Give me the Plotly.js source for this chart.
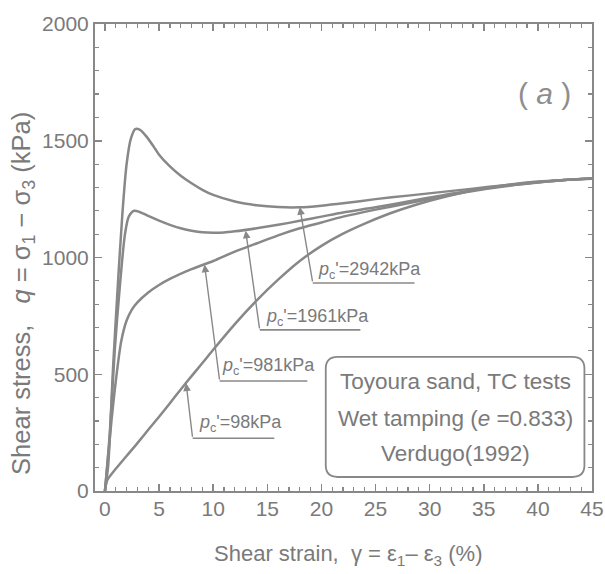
<!DOCTYPE html>
<html>
<head>
<meta charset="utf-8">
<script src="https://cdn.plot.ly/plotly-3.0.1.min.js"></script>
<style>html,body{margin:0;padding:0;background:#fff}</style>
</head>
<body>
<div id="chart" style="width:605px;height:574px"></div>
<script>
// ---- data ----
const seriesNames = ["98kPa", "981kPa", "1961kPa", "2942kPa"];

const strain98 = [0,0.2,1,2,3,4,5,6,7,8,9,10,12,14,16,18,20,22,24,26,28,30,32,34,36,38,40,42,45];
const q98      = [0,45,95,150,205,262,318,376,435,492,548,605,715,815,905,985,1050,1102,1145,1183,1215,1243,1267,1287,1303,1316,1325,1331,1337];

const strain981 = [0,0.3,0.6,1,1.5,2,2.5,3,4,5,6,8,10,12,14,16,18,20,22,25,28,31,34,37,40,42,45];
const q981      = [0,150,300,470,640,730,778,808,850,882,908,950,985,1025,1060,1095,1125,1150,1175,1205,1232,1260,1285,1305,1321,1330,1338];

const strain1961 = [0,0.45,0.9,1.4,1.85,2.2,2.7,3.2,4,5,6,7,8,9,10,11,12,14,16,18,20,22,25,28,31,34,37,40,42,45];
const q1961      = [0,250,600,890,1100,1175,1200,1195,1178,1158,1140,1125,1115,1108,1106,1107,1112,1125,1140,1157,1175,1193,1215,1240,1265,1288,1307,1322,1330,1338];

const strain2942 = [0,0.3,0.75,1.2,1.6,2,2.4,2.8,3.2,3.8,4.5,5,6,7,8,9,10,12,14,16,18,20,22,25,28,31,34,37,40,42,45];
const q2942      = [0,110,530,890,1180,1400,1510,1550,1548,1520,1475,1440,1390,1350,1318,1290,1268,1240,1224,1216,1215,1222,1232,1250,1265,1280,1295,1310,1322,1330,1338];

const xTicks = [0,5,10,15,20,25,30,35,40,45];
const yTicks = [0,500,1000,1500,2000];

const pcLabels = ["<i>p</i><sub>c</sub>'=98kPa", "<i>p</i><sub>c</sub>'=981kPa",
                  "<i>p</i><sub>c</sub>'=1961kPa", "<i>p</i><sub>c</sub>'=2942kPa"];
const boxLines = ["Toyoura sand, TC tests", "Wet tamping (<i>e</i> =0.833)", "Verdugo(1992)"];

// ---- styling ----
const GRAY = "#888888";
const TXT = "#7a7a7a";
const FONT = "'Liberation Sans',Arial,sans-serif";

const xs = [strain98, strain981, strain1961, strain2942];
const ys = [q98, q981, q1961, q2942];
const traces = xs.map((x, i) => ({
  x: x, y: ys[i], name: seriesNames[i], type: "scatter", mode: "lines",
  line: {color: GRAY, width: 2.5, shape: "spline", smoothing: 0.8},
  hoverinfo: "skip", showlegend: false
}));

// label leaders: [head x, head y, tail x, tail y, underline end x, text x, text y]
const leaders = [
  [7.5, 461, 8.1, 226, 15.65, 8.5, 290],
  [9.2, 970, 10.6, 471, 18.7, 10.6, 533],
  [13.0, 1115, 14.3, 690, 23.6, 14.7, 742],
  [18.0, 1216, 19.2, 891, 28.6, 19.5, 943]
];

const annotations = [];
const shapes = [];
leaders.forEach((L, i) => {
  annotations.push({
    x: L[0], y: L[1], ax: L[2], ay: L[3], xref: "x", yref: "y", axref: "x", ayref: "y",
    text: "", showarrow: true, arrowhead: 2, arrowsize: 1.1, arrowwidth: 1.4,
    arrowcolor: GRAY, standoff: 0
  });
  shapes.push({type: "line", xref: "x", yref: "y", x0: L[2], y0: L[3], x1: L[4], y1: L[3],
    line: {color: GRAY, width: 1.6}});
  annotations.push({
    x: L[5], y: L[6], xref: "x", yref: "y", xanchor: "left", yanchor: "middle",
    text: pcLabels[i], showarrow: false, font: {family: FONT, size: 18, color: TXT}
  });
});

// rounded legend box
const bx0 = 20.4, bx1 = 44.3, by0 = 60, by1 = 574, rx = 1.1, ry = 50;
shapes.push({
  type: "path", xref: "x", yref: "y",
  path: `M ${bx0+rx},${by0} L ${bx1-rx},${by0} Q ${bx1},${by0} ${bx1},${by0+ry} L ${bx1},${by1-ry} Q ${bx1},${by1} ${bx1-rx},${by1} L ${bx0+rx},${by1} Q ${bx0},${by1} ${bx0},${by1-ry} L ${bx0},${by0+ry} Q ${bx0},${by0} ${bx0+rx},${by0} Z`,
  line: {color: GRAY, width: 1.8}, fillcolor: "rgba(0,0,0,0)"
});
const boxY = [467, 310, 160];
boxLines.forEach((t, i) => annotations.push({
  x: (bx0 + bx1) / 2, y: boxY[i], xref: "x", yref: "y", xanchor: "center", yanchor: "middle",
  text: t, showarrow: false, font: {family: FONT, size: 22.5, color: TXT}
}));

// panel tag
annotations.push({x: 40.6, y: 1704, xref: "x", yref: "y", xanchor: "center", yanchor: "middle",
  text: "( <i>a</i> )", showarrow: false, font: {family: FONT, size: 30, color: "#8e8e8e"}});

// axis titles
annotations.push({x: 0.51, y: -0.137, xref: "paper", yref: "paper", xanchor: "center", yanchor: "middle",
  text: "Shear strain,  γ = ε<sub>1</sub>– ε<sub>3</sub> (%)", showarrow: false,
  font: {family: FONT, size: 22, color: TXT}});
annotations.push({x: -0.145, y: 0.424, xref: "paper", yref: "paper", xanchor: "center", yanchor: "middle",
  textangle: -90, text: "Shear stress,   <i>q</i> = σ<sub>1</sub> − σ<sub>3</sub> (kPa)", showarrow: false,
  font: {family: FONT, size: 25.5, color: TXT}});

const axisCommon = {
  showline: true, linecolor: GRAY, linewidth: 2, mirror: "allticks",
  ticks: "inside", ticklen: 7, tickwidth: 1.5, tickcolor: GRAY,
  showgrid: false, zeroline: false,
  tickfont: {family: FONT, size: 21, color: TXT}
};

const layout = {
  width: 605, height: 574,
  margin: {l: 95, r: 13, t: 24, b: 83},
  paper_bgcolor: "#fff", plot_bgcolor: "#fff",
  xaxis: Object.assign({}, axisCommon, {
    range: [-0.92, 45], tickmode: "array", tickvals: xTicks, ticktext: xTicks.map(String),
    ticklabelstandoff: -2,
    minor: {dtick: 1, tick0: 0, ticks: "inside", ticklen: 4, tickwidth: 1.2, tickcolor: GRAY, showgrid: false}
  }),
  yaxis: Object.assign({}, axisCommon, {
    range: [0, 2000], tickmode: "array", tickvals: yTicks, ticktext: yTicks.map(String),
    minor: {dtick: 100, tick0: 0, ticks: "inside", ticklen: 4, tickwidth: 1.2, tickcolor: GRAY, showgrid: false}
  }),
  shapes: shapes,
  annotations: annotations,
  showlegend: false
};

Plotly.newPlot("chart", traces, layout, {staticPlot: true, displayModeBar: false});
</script>
</body>
</html>
